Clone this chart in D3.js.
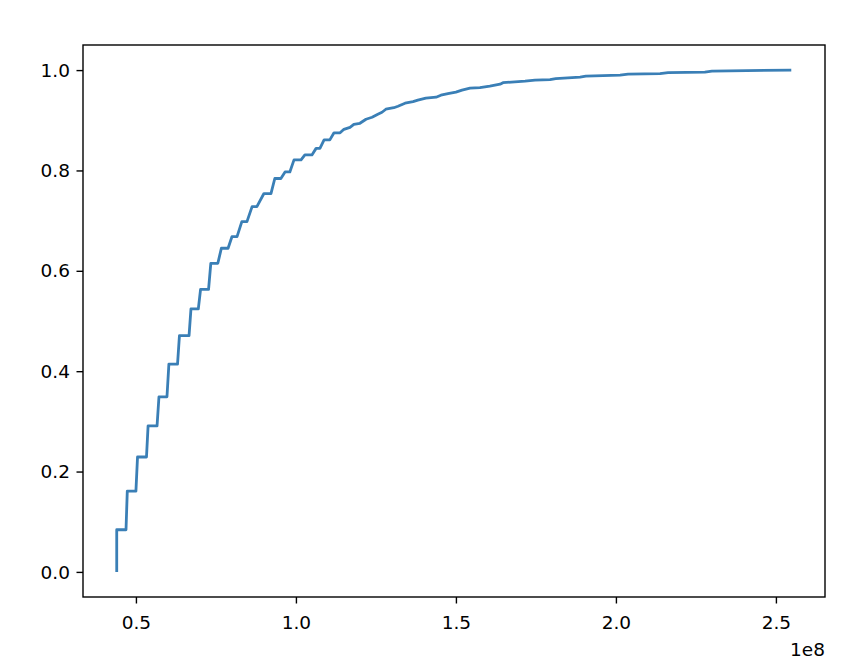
<!DOCTYPE html>
<html>
<head>
<meta charset="utf-8">
<script src="https://cdn.jsdelivr.net/npm/d3@7"></script>
<style>
  html, body { margin: 0; padding: 0; background: #fff; }
  svg { display: block; font-family: "DejaVu Sans", sans-serif; }
</style>
</head>
<body>
<svg id="chart" width="850" height="666"></svg>
<script>
// Curve vertices (x in raw units, y = cumulative proportion)
const xValues = [
  0.440e8, 0.440e8, 0.469e8, 0.473e8, 0.500e8, 0.505e8, 0.533e8, 0.538e8,
  0.566e8, 0.572e8, 0.597e8, 0.603e8, 0.630e8, 0.636e8, 0.666e8, 0.672e8,
  0.695e8, 0.702e8, 0.727e8, 0.734e8, 0.756e8, 0.767e8, 0.788e8, 0.800e8,
  0.816e8, 0.831e8, 0.847e8, 0.863e8, 0.878e8, 0.900e8, 0.922e8, 0.934e8,
  0.953e8, 0.966e8, 0.981e8, 0.994e8, 1.016e8, 1.028e8, 1.050e8, 1.063e8,
  1.075e8, 1.088e8, 1.106e8, 1.119e8, 1.138e8, 1.150e8, 1.169e8, 1.181e8,
  1.200e8, 1.219e8, 1.238e8, 1.256e8, 1.269e8, 1.281e8, 1.306e8, 1.319e8,
  1.341e8, 1.366e8, 1.381e8, 1.406e8, 1.438e8, 1.453e8, 1.475e8, 1.500e8,
  1.519e8, 1.544e8, 1.575e8, 1.606e8, 1.638e8, 1.647e8, 1.716e8, 1.747e8,
  1.794e8, 1.812e8, 1.888e8, 1.906e8, 2.013e8, 2.038e8, 2.138e8, 2.163e8,
  2.278e8, 2.300e8, 2.548e8
];
const proportions = [
  0.000, 0.084, 0.084, 0.161, 0.161, 0.229, 0.229, 0.291,
  0.291, 0.349, 0.349, 0.414, 0.414, 0.471, 0.471, 0.524,
  0.524, 0.563, 0.563, 0.615, 0.615, 0.645, 0.645, 0.668,
  0.668, 0.698, 0.698, 0.728, 0.728, 0.754, 0.754, 0.784,
  0.784, 0.797, 0.797, 0.821, 0.821, 0.831, 0.831, 0.844,
  0.844, 0.861, 0.861, 0.875, 0.875, 0.882, 0.886, 0.892,
  0.894, 0.902, 0.906, 0.912, 0.916, 0.922, 0.925, 0.928,
  0.934, 0.937, 0.940, 0.944, 0.946, 0.950, 0.953, 0.956,
  0.960, 0.964, 0.965, 0.968, 0.972, 0.975, 0.978, 0.980,
  0.981, 0.983, 0.986, 0.988, 0.990, 0.992, 0.993, 0.995,
  0.996, 0.998, 1.000
];
const xTicks = [0.5e8, 1.0e8, 1.5e8, 2.0e8, 2.5e8];
const yTicks = [0.0, 0.2, 0.4, 0.6, 0.8, 1.0];
const offsetLabel = "1e8";

const points = xValues.map((v, i) => ({x: v, y: proportions[i]}));

const W = 850, H = 666;
const margin = {left: 83, top: 45, right: 25, bottom: 69};
const iw = W - margin.left - margin.right;
const ih = H - margin.top - margin.bottom;

const svg = d3.select("#chart");
const g = svg.append("g").attr("transform", `translate(${margin.left},${margin.top})`);

const [xmin, xmax] = d3.extent(xValues);
const xpad = (xmax - xmin) * 0.05;
const x = d3.scaleLinear().domain([xmin - xpad, xmax + xpad]).range([0, iw]);
const y = d3.scaleLinear().domain([-0.05, 1.05]).range([ih, 0]);

const fontSize = 18.5;
const tickLen = 6.5;

// Line
const line = d3.line()
  .x(d => x(d.x))
  .y(d => y(d.y))
  .curve(d3.curveLinear);

g.append("path")
  .datum(points)
  .attr("fill", "none")
  .attr("stroke", "#3a7fb6")
  .attr("stroke-width", 2.8)
  .attr("stroke-linejoin", "round")
  .attr("stroke-linecap", "butt")
  .attr("d", line);

// Axes
const xAxis = d3.axisBottom(x)
  .tickValues(xTicks)
  .tickFormat(d => (d / 1e8).toFixed(1))
  .tickSize(tickLen)
  .tickPadding(6.5)
  .tickSizeOuter(0);
const yAxis = d3.axisLeft(y)
  .tickValues(yTicks)
  .tickFormat(d => d.toFixed(1))
  .tickSize(tickLen)
  .tickPadding(6.5)
  .tickSizeOuter(0);

const gx = g.append("g").attr("transform", `translate(0,${ih})`).call(xAxis);
const gy = g.append("g").call(yAxis);

[gx, gy].forEach(ax => {
  ax.select(".domain").remove();
  ax.selectAll(".tick line").attr("stroke", "#000").attr("stroke-width", 1.4);
  ax.selectAll(".tick text")
    .attr("fill", "#000")
    .style("font-size", fontSize + "px")
    .style("font-family", "'DejaVu Sans', sans-serif");
});
gx.selectAll(".tick text").attr("dy", null).attr("y", 32);
gy.selectAll(".tick text").attr("dy", "0.33em");

// Frame (spines)
g.append("rect")
  .attr("x", 0).attr("y", 0)
  .attr("width", iw).attr("height", ih)
  .attr("fill", "none")
  .attr("stroke", "#000")
  .attr("stroke-width", 1.4);

// Offset text
g.append("text")
  .attr("x", iw)
  .attr("y", ih + 59)
  .attr("text-anchor", "end")
  .style("font-size", fontSize + "px")
  .style("font-family", "'DejaVu Sans', sans-serif")
  .attr("fill", "#000")
  .text(offsetLabel);
</script>
</body>
</html>
